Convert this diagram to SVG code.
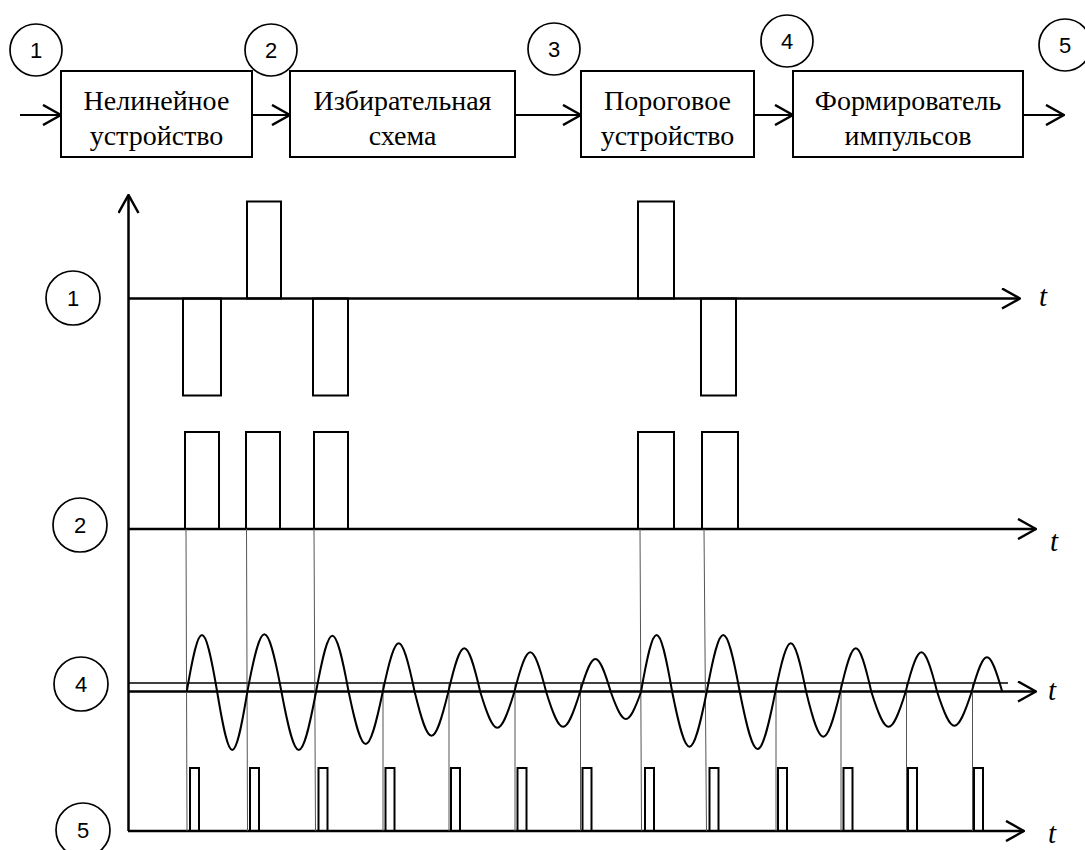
<svg xmlns="http://www.w3.org/2000/svg" width="1085" height="850" viewBox="0 0 1085 850">
<defs>
<style>
.box{fill:#fff;stroke:#000;stroke-width:2}
.lbl{font-family:"Liberation Serif","Times New Roman",serif;font-size:28px;text-anchor:middle;fill:#000}
.num{font-family:"Liberation Sans",Arial,sans-serif;font-size:22px;text-anchor:middle;fill:#000}
.circ{fill:none;stroke:#000;stroke-width:1.7}
.ln{fill:none;stroke:#000;stroke-width:2}
.ax{fill:none;stroke:#000;stroke-width:2.5}
.thr{fill:none;stroke:#000;stroke-width:1.6}
.pl{fill:none;stroke:#000;stroke-width:2}
.thin{fill:none;stroke:#555;stroke-width:1}
.sine{fill:none;stroke:#000;stroke-width:2}
.t{font-family:"Liberation Serif","Times New Roman",serif;font-style:italic;font-size:29px;fill:#000}
</style>
<marker id="ah" viewBox="0 0 20 22" refX="19" refY="11" markerWidth="20" markerHeight="22" markerUnits="userSpaceOnUse" orient="auto">
<path d="M1,1 L19,11 L1,21" fill="none" stroke="#000" stroke-width="2.5"/>
</marker>
</defs>

<g id="connectors">
<line class="ln" x1="20" y1="115" x2="61" y2="115" marker-end="url(#ah)"/>
<line class="ln" x1="252" y1="115" x2="290" y2="115" marker-end="url(#ah)"/>
<line class="ln" x1="515" y1="115" x2="581" y2="115" marker-end="url(#ah)"/>
<line class="ln" x1="754" y1="115" x2="793" y2="115" marker-end="url(#ah)"/>
<line class="ln" x1="1023" y1="115" x2="1064" y2="115" marker-end="url(#ah)"/>
</g>

<g id="node-nonlinear"><rect class="box" x="61" y="71" width="191" height="86"/><text class="lbl" x="156.5" y="110">Нелинейное</text><text class="lbl" x="156.5" y="145">устройство</text></g>
<g id="node-selective"><rect class="box" x="290" y="71" width="225" height="86"/><text class="lbl" x="402.5" y="110">Избирательная</text><text class="lbl" x="402.5" y="145">схема</text></g>
<g id="node-threshold"><rect class="box" x="581" y="71" width="173" height="86"/><text class="lbl" x="667.5" y="110">Пороговое</text><text class="lbl" x="667.5" y="145">устройство</text></g>
<g id="node-shaper"><rect class="box" x="793" y="71" width="230" height="86"/><text class="lbl" x="908" y="110">Формирователь</text><text class="lbl" x="908" y="145">импульсов</text></g>

<g id="point-1"><circle class="circ" cx="36" cy="50" r="26"/><text class="num" x="36" y="58">1</text></g>
<g id="point-2"><circle class="circ" cx="271" cy="50" r="26"/><text class="num" x="271" y="58">2</text></g>
<g id="point-3"><circle class="circ" cx="554" cy="49" r="26"/><text class="num" x="554" y="57">3</text></g>
<g id="point-4"><circle class="circ" cx="787" cy="41" r="26"/><text class="num" x="787" y="49">4</text></g>
<g id="point-5"><circle class="circ" cx="1065" cy="45" r="26"/><text class="num" x="1065" y="53">5</text></g>

<g id="row-labels">
<circle class="circ" cx="73" cy="298" r="27"/><text class="num" x="73" y="306">1</text>
<circle class="circ" cx="80" cy="525" r="27"/><text class="num" x="80" y="533">2</text>
<circle class="circ" cx="81" cy="684" r="27"/><text class="num" x="81" y="692">4</text>
<circle class="circ" cx="83" cy="830" r="27"/><text class="num" x="83" y="838">5</text>
</g>

<g id="axes">
<line class="ax" x1="128.5" y1="831" x2="128.5" y2="195" marker-end="url(#ah)"/>
<line class="ax" x1="128" y1="298.5" x2="1020" y2="298.5" marker-end="url(#ah)"/>
<line class="ax" x1="128" y1="529" x2="1036" y2="529" marker-end="url(#ah)"/>
<line class="ax" x1="128" y1="691.5" x2="1036" y2="691.5" marker-end="url(#ah)"/>
<line class="thr" x1="128" y1="683" x2="1008" y2="683"/>
<line class="ax" x1="128" y1="831" x2="1024" y2="831" marker-end="url(#ah)"/>
<text class="t" x="1039" y="306">t</text>
<text class="t" x="1050" y="551">t</text>
<text class="t" x="1048" y="700">t</text>
<text class="t" x="1048" y="843">t</text>
</g>

<g id="signal-1">
<rect class="pl" x="183" y="298.5" width="38" height="97"/>
<rect class="pl" x="247" y="201.5" width="34" height="97"/>
<rect class="pl" x="313" y="298.5" width="35" height="97"/>
<rect class="pl" x="638" y="201.5" width="36" height="97"/>
<rect class="pl" x="701" y="298.5" width="35" height="97"/>
</g>

<g id="signal-2">
<rect class="pl" x="185" y="432" width="34" height="97"/>
<rect class="pl" x="246" y="432" width="34" height="97"/>
<rect class="pl" x="314" y="432" width="34" height="97"/>
<rect class="pl" x="638" y="432" width="36" height="97"/>
<rect class="pl" x="702" y="432" width="36" height="97"/>
</g>

<g id="guides">
<line class="thin" x1="186" y1="529" x2="187" y2="831"/>
<line class="thin" x1="246.5" y1="529" x2="247.5" y2="831"/>
<line class="thin" x1="314" y1="529" x2="315.5" y2="831"/>
<line class="thin" x1="640" y1="529" x2="641.5" y2="831"/>
<line class="thin" x1="704" y1="529" x2="706.5" y2="831"/>
<line class="thin" x1="383" y1="683" x2="383" y2="831"/>
<line class="thin" x1="449" y1="683" x2="449" y2="831"/>
<line class="thin" x1="515" y1="683" x2="515" y2="831"/>
<line class="thin" x1="580.5" y1="683" x2="580.5" y2="831"/>
<line class="thin" x1="776" y1="683" x2="776" y2="831"/>
<line class="thin" x1="841" y1="683" x2="841" y2="831"/>
<line class="thin" x1="906.5" y1="683" x2="906.5" y2="831"/>
<line class="thin" x1="972.5" y1="683" x2="972.5" y2="831"/>
</g>

<g id="signal-4">
<path class="sine" d="M186.7,692 C199.6,616 204.3,616 217.2,692 C230,769.3 234.5,769.3 247.3,692 C261.8,615.1 267,615.1 281.5,692 C296.1,769.3 301.4,769.3 316,692 C329.9,616.9 334.8,616.9 348.7,692 C363.1,761.3 368.3,761.3 382.7,692 C396.3,627.1 401.1,627.1 414.7,692 C429,750.3 434,750.3 448.3,692 C461.9,633.7 466.7,633.7 480.3,692 C494.7,739.6 499.9,739.6 514.3,692 C527.8,639.1 532.7,639.1 546.2,692 C560.5,738.3 565.7,738.3 580,692 C593.1,648 597.7,648 610.8,692 C623.6,728 628.2,728 641,692 C654.2,616 659,616 672.2,692 C686.8,764.9 692.1,764.9 706.7,692 C720.7,616 725.8,616 739.8,692 C754.9,768 760.2,768 775.3,692 C788.4,627.1 793.2,627.1 806.2,692 C820.7,751.6 825.9,751.6 840.2,692 C853.4,633.7 858.2,633.7 871.4,692 C886,738.3 891.2,738.3 905.6,692 C919,639.1 923.8,639.1 937.2,692 C951.8,736.9 957,736.9 971.6,692 C984.7,645.7 989.2,645.7 1002.3,692"/>
</g>

<g id="signal-5">
<rect class="pl" x="190" y="768" width="9" height="63"/>
<rect class="pl" x="250" y="768" width="9" height="63"/>
<rect class="pl" x="318.5" y="768" width="9" height="63"/>
<rect class="pl" x="385.5" y="768" width="9" height="63"/>
<rect class="pl" x="451" y="768" width="9" height="63"/>
<rect class="pl" x="517.5" y="768" width="9" height="63"/>
<rect class="pl" x="582.5" y="768" width="9" height="63"/>
<rect class="pl" x="645" y="768" width="9" height="63"/>
<rect class="pl" x="709.5" y="768" width="9" height="63"/>
<rect class="pl" x="778" y="768" width="9" height="63"/>
<rect class="pl" x="843.5" y="768" width="9" height="63"/>
<rect class="pl" x="908" y="768" width="9" height="63"/>
<rect class="pl" x="974" y="768" width="9" height="63"/>
</g>
</svg>
